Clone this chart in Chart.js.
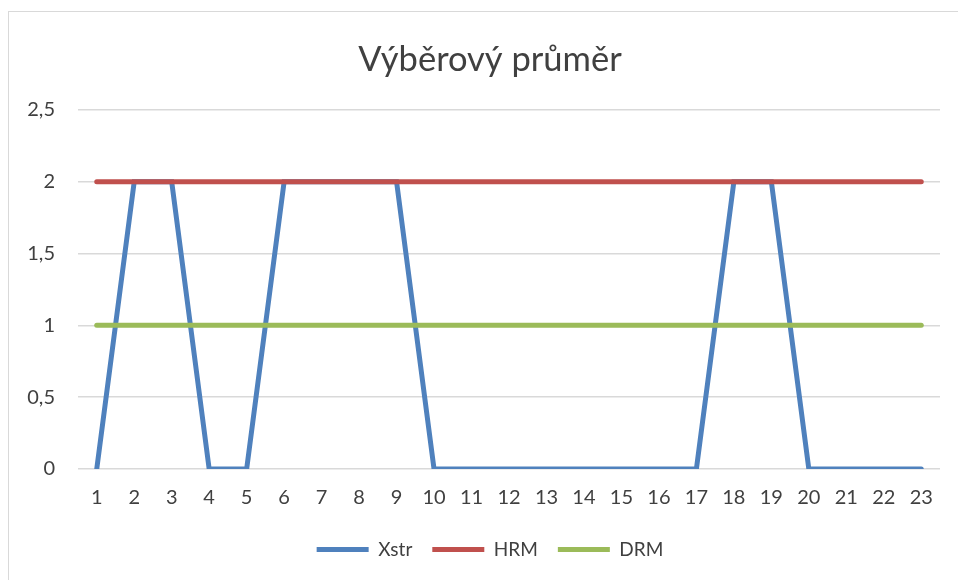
<!DOCTYPE html>
<html>
<head>
<meta charset="utf-8">
<script src="https://cdn.jsdelivr.net/npm/chart.js@4"></script>
<style>
  html, body { margin: 0; padding: 0; background: #fff; overflow: hidden; }
  #box {
    position: absolute; left: 8px; top: 11px;
    width: 995px; height: 580px;
    border: 1px solid #d9d9d9;
  }
</style>
</head>
<body>
<div id="box"><canvas id="chart" width="964" height="568"></canvas></div>
<script>
// data
let labels = ["1","2","3","4","5","6","7","8","9","10","11","12","13","14","15","16","17","18","19","20","21","22","23"];
let xstr = [0,2,2,0,0,2,2,2,2,0,0,0,0,0,0,0,0,2,2,0,0,0,0];
let hrm = [2,2,2,2,2,2,2,2,2,2,2,2,2,2,2,2,2,2,2,2,2,2,2];
let drm = [1,1,1,1,1,1,1,1,1,1,1,1,1,1,1,1,1,1,1,1,1,1,1];
let yTicks = [0, 0.5, 1, 1.5, 2, 2.5];

const FONT = "Lato, 'Noto Sans', sans-serif";

function line(label, data, colour, order) {
  return {
    label: label,
    data: data,
    borderColor: colour,
    backgroundColor: colour,
    borderWidth: 5,
    borderCapStyle: "round",
    borderJoinStyle: "miter",
    pointRadius: 0,
    pointStyle: "line",
    tension: 0,
    order: order,
  };
}

let ctx = document.getElementById("chart").getContext("2d");

new Chart(ctx, {
  type: "line",
  data: {
    labels: labels,
    datasets: [
      line("Xstr", xstr, "#4f81bd", 3),
      line("HRM", hrm, "#c0504d", 2),
      line("DRM", drm, "#9bbb59", 1),
    ],
  },
  options: {
    responsive: false,
    animation: false,
    layout: { padding: { left: 0, right: 2, top: 0, bottom: 11 } },
    plugins: {
      title: {
        display: true,
        text: "Výběrový průměr",
        color: "#404040",
        font: { family: FONT, size: 34.5, weight: "normal" },
        padding: { top: 27, bottom: 29.5 },
      },
      legend: {
        position: "bottom",
        labels: {
          color: "#404040",
          font: { family: FONT, size: 19 },
          usePointStyle: true,
          pointStyleWidth: 52,
          boxHeight: 5,
          padding: 20,
          sort: function (a, b) { return a.datasetIndex - b.datasetIndex; },
        },
      },
      tooltip: { enabled: false },
    },
    scales: {
      x: {
        offset: true,
        afterFit: function (scale) { scale.height = 51; },
        grid: { display: false, drawTicks: false },
        border: { display: false },
        ticks: {
          color: "#404040",
          font: { family: FONT, size: 20 },
          padding: 17,
          maxRotation: 0,
          autoSkip: false,
        },
      },
      y: {
        min: 0,
        max: 2.5,
        afterFit: function (scale) { scale.width = 69; },
        afterBuildTicks: function (scale) {
          scale.ticks = yTicks.map(function (v) { return { value: v }; });
        },
        grid: { color: "#d9d9d9", lineWidth: 1.5, drawTicks: false },
        border: { display: false },
        ticks: {
          color: "#404040",
          font: { family: FONT, size: 20 },
          padding: 23,
          callback: function (v) { return String(v).replace(".", ","); },
        },
      },
      // empty right axis, only there to leave blank space on the right
      // so title and legend stay centred over the whole frame
      yRight: {
        position: "right",
        afterFit: function (scale) { scale.width = 31; },
        grid: { display: false, drawTicks: false },
        border: { display: false },
        ticks: { display: false },
      },
    },
  },
});
</script>
</body>
</html>
